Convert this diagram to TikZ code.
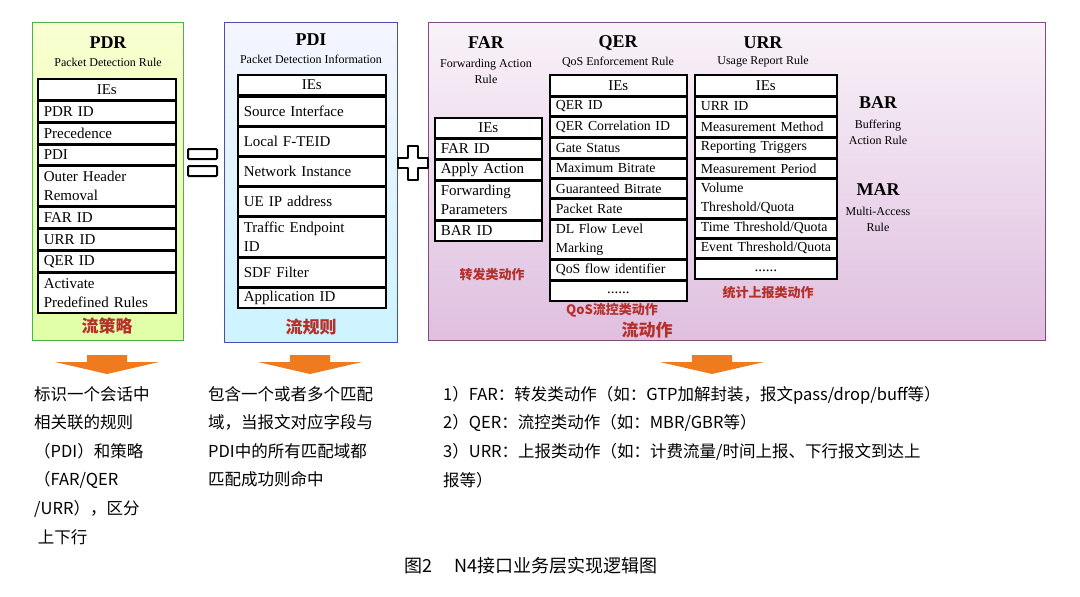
\documentclass[tikz,border=0pt]{standalone}
\usepackage{fontspec}
\setmainfont{Liberation Serif}
\newfontfamily\cjk{Noto Sans CJK SC}
\definecolor{lbl}{HTML}{B5302A}
\definecolor{arr}{HTML}{F07A1E}
\tikzset{
 cellbox/.style={draw=black,line width=1.6pt,fill=white,anchor=north west,inner sep=0pt,inner xsep=6pt,align=left,font=\fontsize{15}{19}\selectfont},
 ttl/.style={font=\bfseries\fontsize{18}{20}\selectfont,inner sep=0pt},
 sub/.style={font=\fontsize{12}{16}\selectfont,inner sep=0pt,align=center},
 cn/.style={font=\cjk\bfseries\fontsize{13}{15}\selectfont,text=lbl,inner sep=0pt},
 big/.style={font=\cjk\bfseries\fontsize{17}{19}\selectfont,text=lbl,inner sep=0pt},
 body/.style={font=\cjk\fontsize{16.5}{28.6}\selectfont,anchor=north west,align=left,inner sep=0pt},
 tight/.style={inner xsep=4pt,font=\fontsize{13.8}{19}\selectfont},
}
\newcommand{\cellrow}[7][]{\node[cellbox,#1,minimum width=#5pt-#3pt,minimum height=#6pt-#4pt,text width=#5pt-#3pt-12pt] (#2) at (#3,#4) {#7};}
\newcommand{\cellc}[6]{\node[cellbox,align=center,minimum width=#4pt-#2pt,minimum height=#5pt-#3pt,text width=#4pt-#2pt-12pt] (#1) at (#2,#3) {#6};}
\newcommand{\orarrow}[2]{\fill[arr] (#2-20,355)--(#2+20,355)--(#2+20,362)--(#2+52,362)--(#2,374)--(#2-52,362)--(#2-20,362)--cycle; \coordinate (#1) at (#2,374);}
\begin{document}
\begin{tikzpicture}[x=1pt,y=-1pt]
\useasboundingbox[fill=white] (0,0) rectangle (1080,597);
% outer boxes
\node[draw=green!40!gray,line width=1pt,top color=green!12!yellow!18,bottom color=green!35!yellow!35,anchor=north west,minimum width=151pt,minimum height=318pt,inner sep=0pt] (pdrbox) at (32,22) {};
\node[draw=blue!40!gray,line width=1pt,top color=blue!4,bottom color=blue!22!cyan!20,anchor=north west,minimum width=173pt,minimum height=320pt,inner sep=0pt] (pdibox) at (224,22) {};
\node[draw=violet!40!gray,line width=1pt,top color=violet!5,bottom color=violet!25,anchor=north west,minimum width=617pt,minimum height=318pt,inner sep=0pt] (actbox) at (428,22) {};
% PDR
\node[ttl] (pdrt) at (108,43) {PDR};
\node[sub] (pdrs) at (108,62) {Packet Detection Rule};
\cellc{r0}{37}{78}{175}{99}{IEs}
\cellrow{r1}{37}{100}{175}{121}{PDR ID}
\cellrow{r2}{37}{122}{175}{143}{Precedence}
\cellrow{r3}{37}{144}{175}{164}{PDI}
\cellrow{r4}{37}{165}{175}{205}{Outer Header\\Removal}
\cellrow{r5}{37}{206}{175}{227}{FAR ID}
\cellrow{r6}{37}{228}{175}{249}{URR ID}
\cellrow{r7}{37}{250}{175}{271}{QER ID}
\cellrow{r8}{37}{272}{175}{312}{Activate\\Predefined Rules}
\node[big] (pdrl) at (107,326) {流策略};
% equals
\draw[line width=2pt,rounded corners=1pt] (188,149) rectangle (217,159);
\draw[line width=2pt,rounded corners=1pt] (188,166) rectangle (217,176);
% PDI
\node[ttl] (pdit) at (311,40) {PDI};
\node[sub] (pdis) at (311,59) {Packet Detection Information};
\cellc{p0}{237}{74}{385}{94}{IEs}
\cellrow{p1}{237}{96}{385}{125}{Source Interface}
\cellrow{p2}{237}{126}{385}{155}{Local F-TEID}
\cellrow{p3}{237}{156}{385}{185}{Network Instance}
\cellrow{p4}{237}{186}{385}{215}{UE IP address}
\cellrow{p5}{237}{216}{385}{256}{Traffic Endpoint\\ID}
\cellrow{p6}{237}{257}{385}{286}{SDF Filter}
\cellrow{p7}{237}{287}{385}{307}{Application ID}
\node[big] (pdil) at (311,327) {流规则};
% plus
\draw[line width=2pt,line join=round] (408,146)--(418,146)--(418,158)--(428,158)--(428,168)--(418,168)--(418,180)--(408,180)--(408,168)--(398,168)--(398,158)--(408,158)--cycle;
% FAR
\node[ttl] (fart) at (486,43) {FAR};
\node[sub] (fars) at (486,71) {Forwarding Action\\Rule};
\cellc{f0}{434}{117}{541}{137}{IEs}
\cellrow{f1}{434}{138}{541}{158}{FAR ID}
\cellrow{f2}{434}{159}{541}{179}{Apply Action}
\cellrow{f3}{434}{180}{541}{219}{Forwarding\\Parameters}
\cellrow{f4}{434}{220}{541}{240}{BAR ID}
\node[cn] (farl) at (492,275) {转发类动作};
% QER
\node[ttl] (qert) at (618,43) {QER};
\node[sub] (qers) at (618,62) {QoS Enforcement Rule};
\cellc{q0}{549}{74}{686}{95}{IEs}
\cellrow[tight]{q1}{549}{96}{686}{115}{QER ID}
\cellrow[tight]{q2}{549}{116}{686}{136}{QER Correlation ID}
\cellrow[tight]{q3}{549}{137}{686}{157}{Gate Status}
\cellrow[tight]{q4}{549}{158}{686}{177}{Maximum Bitrate}
\cellrow[tight]{q5}{549}{178}{686}{197}{Guaranteed Bitrate}
\cellrow[tight]{q6}{549}{198}{686}{218}{Packet Rate}
\cellrow[tight]{q7}{549}{219}{686}{258}{DL Flow Level\\Marking}
\cellrow[tight]{q8}{549}{259}{686}{279}{QoS flow identifier}
\cellc{q9}{549}{280}{686}{300}{\raisebox{-5pt}{......}}
\node[cn] (qerl) at (612,310) {QoS流控类动作};
\node[big] (actl) at (647,330) {流动作};
% URR
\node[ttl] (urrt) at (763,43) {URR};
\node[sub] (urrs) at (763,62) {Usage Report Rule};
\cellc{u0}{694}{74}{836}{95}{IEs}
\cellrow[tight]{u1}{694}{96}{836}{115}{URR ID}
\cellrow[tight]{u2}{694}{116}{836}{136}{Measurement Method}
\cellrow[tight]{u3}{694}{137}{836}{157}{Reporting Triggers}
\cellrow[tight]{u4}{694}{158}{836}{177}{Measurement Period}
\cellrow[tight]{u5}{694}{178}{836}{217}{Volume\\Threshold/Quota}
\cellrow[tight]{u6}{694}{218}{836}{237}{\mbox{Time Threshold/Quota}}
\cellrow[tight]{u7}{694}{238}{836}{257}{\mbox{Event Threshold/Quota}}
\cellc{u8}{694}{258}{836}{278}{\raisebox{-5pt}{......}}
\node[cn] (urrl) at (768,293) {统计上报类动作};
% BAR MAR
\node[ttl] (bart) at (878,103) {BAR};
\node[sub] (bars) at (878,132) {Buffering\\Action Rule};
\node[ttl] (mart) at (878,190) {MAR};
\node[sub] (mars) at (878,219) {Multi-Access\\Rule};
% arrows
\orarrow{a1}{107}
\orarrow{a2}{310}
\orarrow{a3}{712}
% bottom text
\node[body] (t1) at (34,386) {标识一个会话中\\相关联的规则\\（PDI）和策略\\（FAR/QER\\/URR），区分\\\ 上下行};
\node[body] (t2) at (208,386) {包含一个或者多个匹配\\域，当报文对应字段与\\PDI中的所有匹配域都\\匹配成功则命中};
\node[body] (t3) at (443,386) {1）FAR：转发类动作（如：GTP加解封装，报文pass/drop/buff等）\\2）QER：流控类动作（如：MBR/GBR等）\\3）URR：上报类动作（如：计费流量/时间上报、下行报文到达上\\报等）};
\node[font=\cjk\fontsize{18}{20}\selectfont,inner sep=0pt] (cap) at (531,566) {图2\quad\  N4接口业务层实现逻辑图};
\end{tikzpicture}
\end{document}
